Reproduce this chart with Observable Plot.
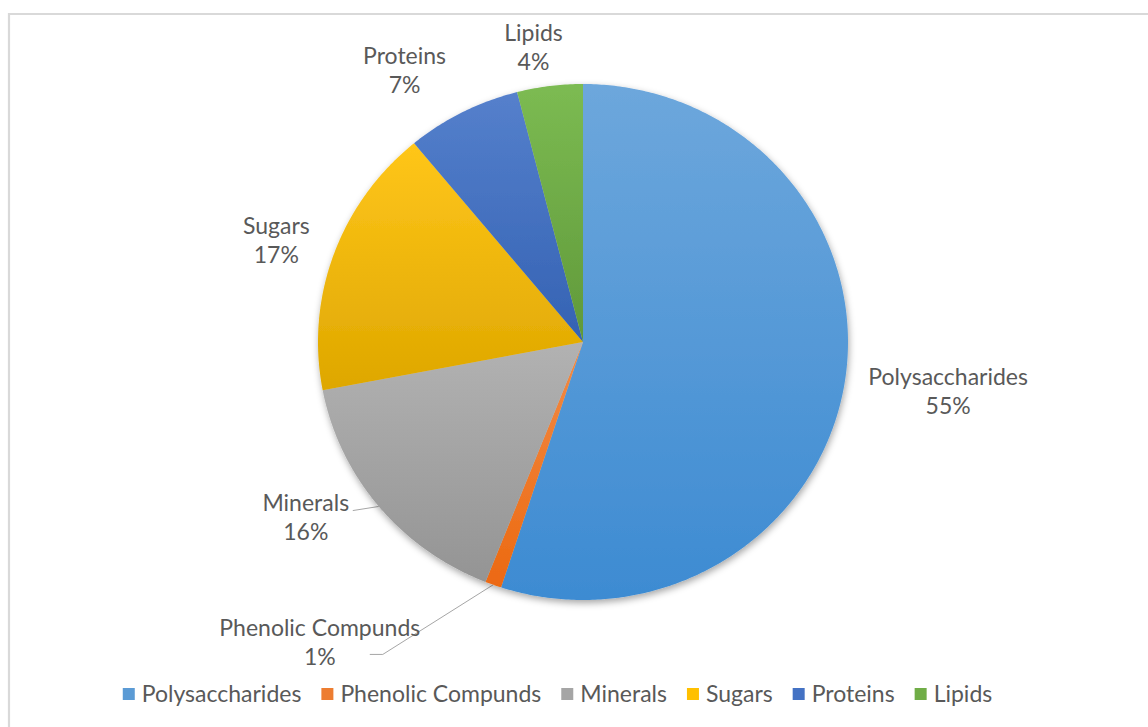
<!DOCTYPE html>
<html><head><meta charset="utf-8">
<script src="https://cdn.jsdelivr.net/npm/d3@7"></script>
<script src="https://cdn.jsdelivr.net/npm/@observablehq/plot@0.6"></script>
<style>
html,body{margin:0;padding:0;background:#fff;}
#chart{position:relative;width:1148px;height:727px;overflow:hidden;}
</style></head><body><div id="chart"></div>
<script>
// ---- data ----
const categories = ["Polysaccharides", "Phenolic Compunds", "Minerals", "Sugars", "Proteins", "Lipids"];
const shares = [55, 1, 16, 17, 7, 4];
const colors = ["#5B9BD5", "#ED7D31", "#A5A5A5", "#FFC000", "#4472C4", "#70AD47"];

// ---- layout ----
const W = 1148, H = 727;
const cx = 583, cy = 342, rx = 265, ry = 258;
const FONT = "Lato, 'Open Sans', sans-serif";
const FS = 23;
const TXT = "#595959";

const data = categories.map((c, i) => ({category: c, share: shares[i]}));
const arcs = d3.pie().sort(null).value(d => d.share)(data);

// label placement relative to arc mid-angle point at 1.25R (pixel nudges)
const labelNudge = {
  "Polysaccharides": [38, -1],
  "Phenolic Compunds": [-151, -3],
  "Minerals": [-22, -30],
  "Sugars": [5, 8],
  "Proteins": [-28, 16],
  "Lipids": [-8, 25]
};

function shade(c, dl, ds) {
  const h = d3.hsl(c);
  h.l = Math.max(0, Math.min(1, h.l + dl));
  h.s = Math.max(0, Math.min(1, h.s + ds));
  return h.formatHex();
}

function pieMark(index, scales) {
  const {x, y, color} = scales;
  const g = d3.create("svg:g");
  const defs = g.append("defs");
  const f = defs.append("filter").attr("id", "shadow").attr("x", "-10%").attr("y", "-10%").attr("width", "120%").attr("height", "120%");
  f.append("feDropShadow").attr("dx", 1).attr("dy", 3).attr("stdDeviation", 3.5)
    .attr("flood-color", "#000").attr("flood-opacity", 0.35);

  // chart border
  g.append("path").attr("d", `M9,${H + 10}V14H${W + 10}`)
    .attr("fill", "none").attr("stroke", "#D9D9D9").attr("stroke-width", 2.2);

  const pt = (a, r = 1) => [x(r * Math.sin(a)), y(r * Math.cos(a))];

  // leader lines (under the pie)
  const leaders = g.append("g").attr("fill", "none").attr("stroke", "#A6A6A6").attr("stroke-width", 1);

  const slices = g.append("g").attr("filter", "url(#shadow)");
  arcs.forEach((a, i) => {
    const base = color(a.data.category);
    const gid = "grad" + i;
    const lg = defs.append("linearGradient").attr("id", gid)
      .attr("x1", 0).attr("y1", 0).attr("x2", 0).attr("y2", 1);
    lg.append("stop").attr("offset", "0%").attr("stop-color", shade(base, 0.05, 0.02));
    lg.append("stop").attr("offset", "100%").attr("stop-color", shade(base, -0.065, 0.03));
    const n = Math.max(2, Math.ceil((a.endAngle - a.startAngle) / 0.01));
    const pts = [[x(0), y(0)]];
    for (let k = 0; k <= n; k++) pts.push(pt(a.startAngle + (a.endAngle - a.startAngle) * k / n));
    slices.append("path").attr("d", "M" + pts.map(p => p.join(",")).join("L") + "Z")
      .attr("fill", `url(#${gid})`);
  });

  // labels
  const labels = g.append("g").attr("font-family", FONT).attr("font-size", FS)
    .attr("fill", TXT).attr("text-anchor", "middle");
  arcs.forEach(a => {
    const mid = (a.startAngle + a.endAngle) / 2;
    const [px, py] = pt(mid, 1.25);
    const [nx, ny] = labelNudge[a.data.category];
    const lx = px + nx, ly = py + ny;
    const t = labels.append("text");
    t.append("tspan").attr("x", lx).attr("y", ly - 14.5).attr("dy", "0.35em").text(a.data.category);
    t.append("tspan").attr("x", lx).attr("y", ly + 14.5).attr("dy", "0.35em").text(Math.round(a.data.share) + "%");
    const edge = pt(mid, 1.0);
    if (a.data.category === "Minerals") {
      leaders.append("path").attr("d", `M${lx + 47},${ly - 7}L${edge[0]},${edge[1]}`);
    }
    if (a.data.category === "Phenolic Compunds") {
      leaders.append("path").attr("d", `M${lx + 50},${ly + 12}H${lx + 63}L${edge[0]},${edge[1]}`);
    }
  });

  // legend
  const ctx = document.createElement("canvas").getContext("2d");
  ctx.font = `${FS}px Lato`;
  const sq = 12, gapSq = 7, gapItem = 20;
  const widths = categories.map(c => ctx.measureText(c).width);
  const total = d3.sum(widths) + categories.length * (sq + gapSq) + (categories.length - 1) * gapItem;
  let lx0 = 557.5 - total / 2;
  const legend = g.append("g").attr("font-family", FONT).attr("font-size", FS)
    .attr("fill", TXT).attr("text-anchor", "start");
  categories.forEach((c, i) => {
    legend.append("rect").attr("x", lx0).attr("y", 688).attr("width", sq).attr("height", sq)
      .attr("fill", color(c));
    legend.append("text").attr("x", lx0 + sq + gapSq).attr("y", 694).attr("dy", "0.35em").text(c);
    lx0 += sq + gapSq + widths[i] + gapItem;
  });
  return g.node();
}

const chart = Plot.plot({
  width: W, height: H, margin: 0,
  style: {background: "#fff", overflow: "visible"},
  x: {domain: [-1, 1], range: [cx - rx, cx + rx], axis: null},
  y: {domain: [-1, 1], range: [cy + ry, cy - ry], axis: null},
  color: {domain: categories, range: colors},
  marks: [
    Plot.dot(data, {x: () => 0, y: () => 0, fill: "category", r: 1, opacity: 0}),
    pieMark
  ]
});
document.getElementById("chart").appendChild(chart);
</script></body></html>
